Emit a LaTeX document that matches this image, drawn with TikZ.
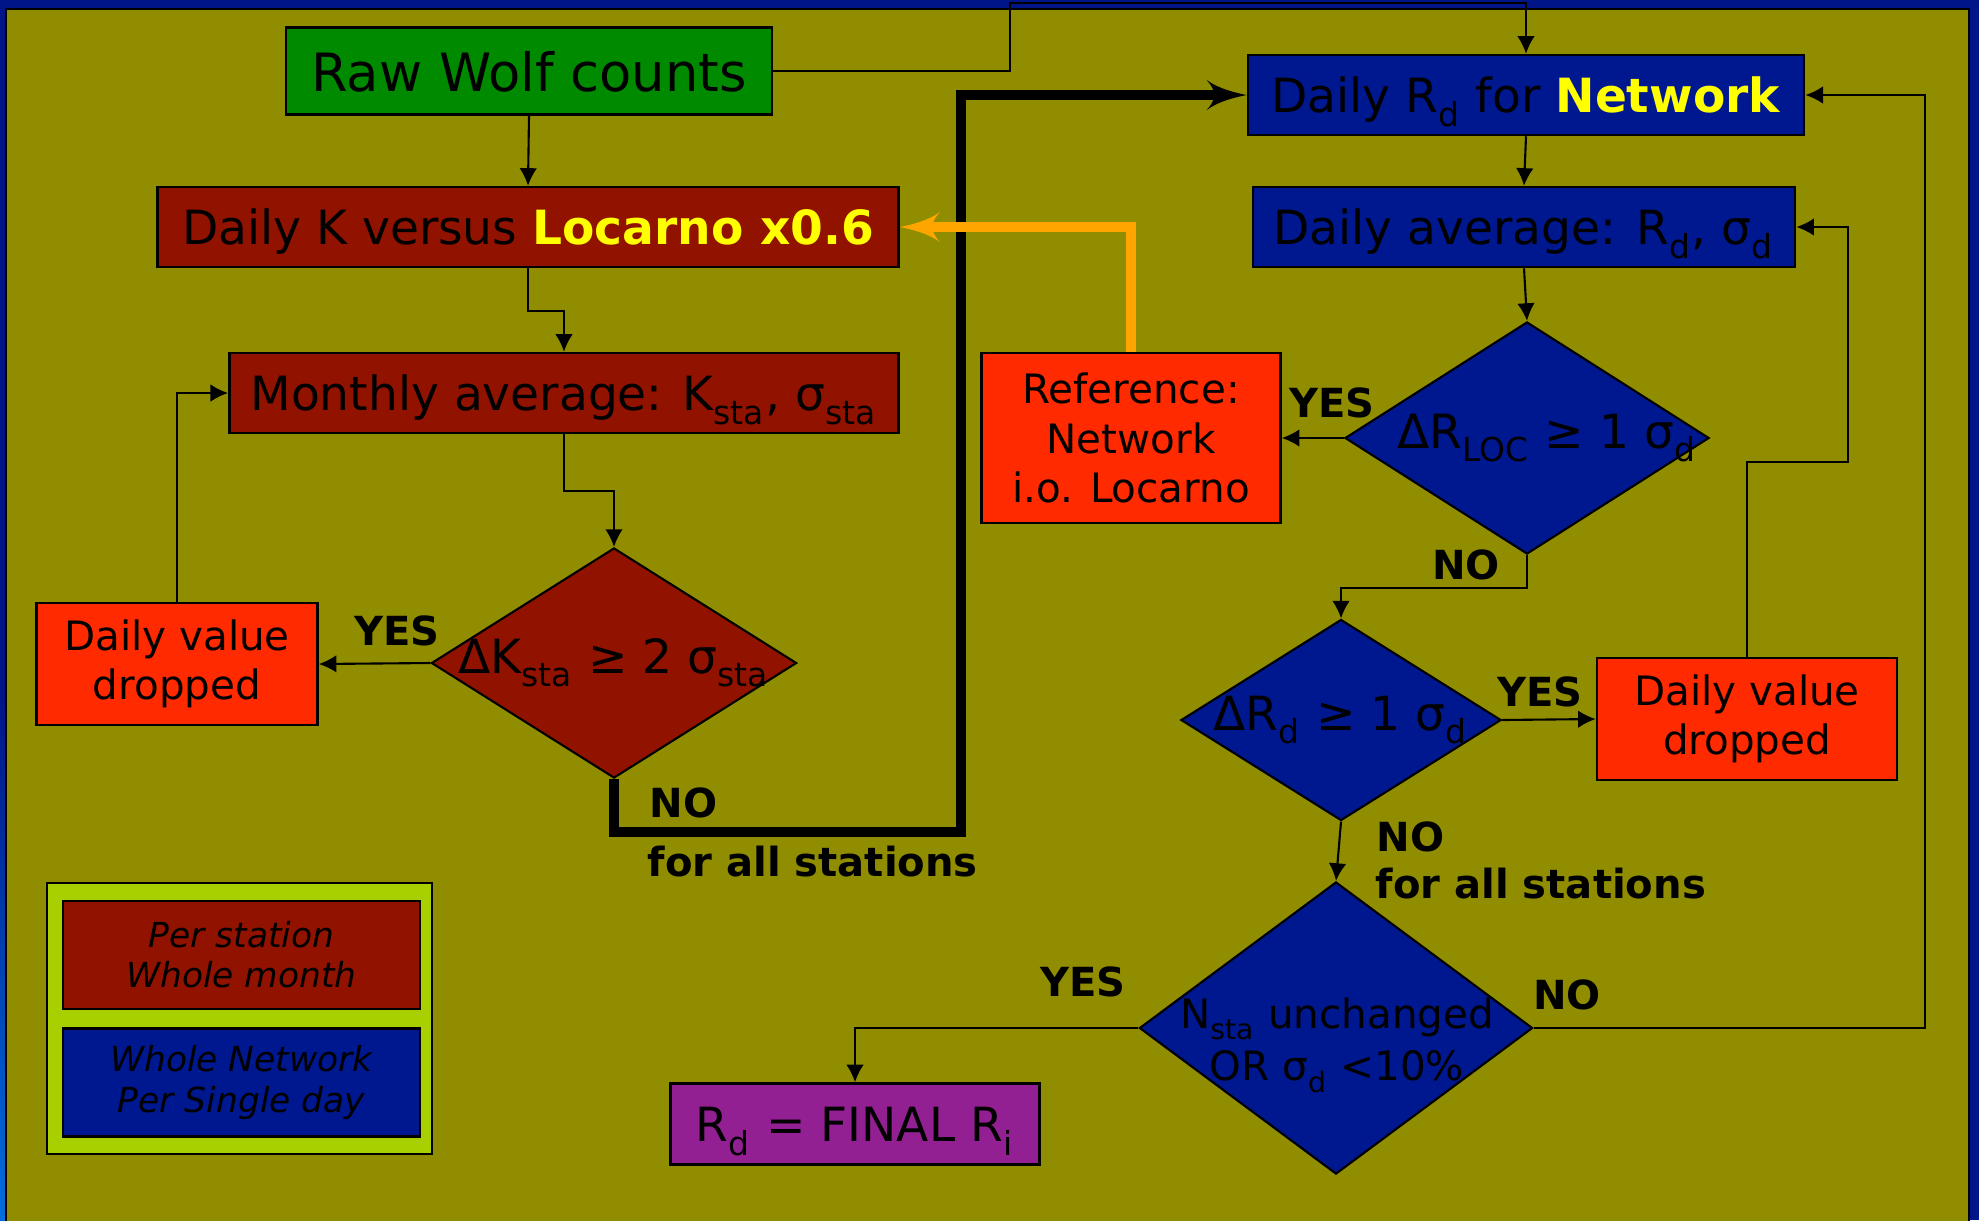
\documentclass[tikz,border=0pt]{standalone}
\usepackage{fontspec}
\setmainfont{DejaVu Sans}
\usepackage{tikz}
\usetikzlibrary{arrows,%
                arrows.meta,%
                shapes.geometric}

\definecolor{frameblue}{RGB}{0,21,136}
\definecolor{lightframe}{RGB}{0,110,220}
\definecolor{slidebg}{RGB}{144,141,0}
\definecolor{stationred}{RGB}{146,18,0}
\definecolor{networkblue}{RGB}{0,24,143}
\definecolor{rawgreen}{RGB}{0,138,0}
\definecolor{dropred}{RGB}{255,42,0}
\definecolor{finalpurple}{RGB}{146,32,146}
\definecolor{legendlime}{RGB}{168,208,0}
\definecolor{hiyellow}{RGB}{255,255,0}
\definecolor{refarrow}{RGB}{255,165,0}

\newcommand{\lowsub}[1]{\raisebox{-0.12em}{\textsubscript{#1}}}

\begin{document}
\begin{tikzpicture}[>=latex', x=0.01cm, y=-0.01cm]
  \tikzset{framed/.style = {draw, line width=0.7pt, inner sep=0pt,
                            font=\fontsize{13.4}{16}\selectfont}}
  \tikzset{box/.style = {framed, text height=10.2pt, text depth=0pt}}
  \tikzset{decision/.style = {framed, diamond, line width=0.6pt}}
  \tikzset{dropbox/.style = {framed, fill=dropred, align=center,
                             font=\fontsize{11.5}{14}\selectfont}}
  \tikzset{answer/.style = {inner sep=0pt,
                            font=\fontsize{11.4}{13}\selectfont\bfseries}}
  \tikzset{legendbox/.style = {framed, align=center, minimum width=3.57cm,
                               minimum height=1.08cm,
                               font=\fontsize{9.8}{11.4}\selectfont\itshape}}
  \tikzset{EdgeStyle/.style = {-{Latex[length=5pt,width=5pt]}, line width=0.6pt}}
  \tikzset{FlowStyle/.style = {->, line width=2.85pt}}

  \useasboundingbox (0,0) rectangle (1979,1220);
  % slide background
  \fill[frameblue] (0,0) rectangle (1979,1220);
  \shade[top color=frameblue, bottom color=lightframe] (0,700) rectangle (6,1220);
  \filldraw[fill=slidebg, draw=black, line width=0.6pt] (6,9) rectangle (1969,1224);

  % per station
  \node[box, fill=rawgreen, minimum width=4.86cm, minimum height=0.87cm, text height=11.8pt,
        font=\fontsize{15}{17}\selectfont] (raw) at (529,71) {Raw Wolf counts};
  \node[box, fill=stationred, minimum width=7.41cm, minimum height=0.8cm] (locarno) at (528,227)
        {Daily K versus \textcolor{hiyellow}{\textbf{Locarno x0.6}}};
  \node[box, fill=stationred, minimum width=6.69cm, minimum height=0.8cm] (month) at (564,393)
        {Monthly average: K\lowsub{sta}, σ\lowsub{sta}};
  \node[decision, fill=stationred, minimum width=3.65cm, minimum height=2.3cm] (kcheck) at (614,663)
        {\makebox[0pt]{ΔK\lowsub{sta} ≥ 2 σ\lowsub{sta}}};
  \node[dropbox, minimum width=2.81cm, minimum height=1.22cm] (dropK) at (177,664)
        {Daily value\\dropped};

  % whole network
  \node[box, fill=networkblue, minimum width=5.56cm, minimum height=0.8cm] (network) at (1526,95)
        {Daily R\lowsub{d} for \textcolor{hiyellow}{\textbf{Network}}};
  \node[box, fill=networkblue, minimum width=5.42cm, minimum height=0.8cm] (daily) at (1524,227)
        {Daily average: R\lowsub{d}, σ\lowsub{d}};
  \node[decision, fill=networkblue, minimum width=3.64cm, minimum height=2.32cm] (loccheck) at (1527,438)
        {\makebox[0pt]{\hspace{0.4cm}ΔR\lowsub{LOC} ≥ 1 σ\lowsub{d}}};
  \node[dropbox, minimum width=2.99cm, minimum height=1.7cm] (reference) at (1131,438)
        {Reference:\\Network\\i.o. Locarno};
  \node[decision, fill=networkblue, minimum width=3.2cm, minimum height=2.01cm] (rdcheck) at (1341,720)
        {\makebox[0pt]{ΔR\lowsub{d} ≥ 1 σ\lowsub{d}}};
  \node[dropbox, minimum width=3cm, minimum height=1.22cm] (dropR) at (1747,719)
        {Daily value\\dropped};
  \node[decision, fill=networkblue, minimum width=3.93cm, minimum height=2.92cm] (stacheck) at (1336,1028) {};
  \node[align=center, inner sep=0pt, font=\fontsize{11.5}{14.8}\selectfont] (stacheck-text) at (1337,1045)
        {N\lowsub{sta} unchanged\\OR σ\lowsub{d} <10\%};
  \node[box, fill=finalpurple, minimum width=3.69cm, minimum height=0.81cm] (final) at (855,1124)
        {R\lowsub{d} = FINAL R\lowsub{i}};

  % legend
  \node[draw, line width=0.7pt, fill=legendlime, minimum width=3.85cm, minimum height=2.71cm] (legend) at (239.5,1018.5) {};
  \node[legendbox, fill=stationred] (perstation) at (241.5,955) {Per station\\Whole month};
  \node[legendbox, fill=networkblue] (pernetwork) at (241.5,1082.5) {Whole Network\\Per Single day};

  % connectors
  \coordinate (top) at (1010,3);
  \draw[EdgeStyle] (raw.east) -| (top) -| (network.north);
  \draw[EdgeStyle] (raw.south) -- (locarno.north);
  \draw[EdgeStyle] (locarno.south) -- ++(0,43) -| (month.north);
  \draw[EdgeStyle] (month.south) -- ++(0,57) -| (kcheck.north);
  \draw[EdgeStyle] (kcheck.west) -- (dropK.east);
  \draw[EdgeStyle] (dropK.north) |- (month.west);
  \coordinate (kturn) at (961,832);
  \draw[FlowStyle] (kcheck.south) |- (kturn) |- (network.west);
  \draw[FlowStyle, draw=refarrow] (reference.north) |- (locarno.east);

  \draw[EdgeStyle] (network.south) -- (daily.north);
  \draw[EdgeStyle] (daily.south) -- (loccheck.north);
  \draw[EdgeStyle] (loccheck.west) -- (reference.east);
  \draw[EdgeStyle] (loccheck.south) -- ++(0,33) -| (rdcheck.north);
  \draw[EdgeStyle] (rdcheck.east) -- (dropR.west);
  \coordinate (rturn) at (1848,462);
  \draw[EdgeStyle] (dropR.north) |- (rturn) |- (daily.east);
  \draw[EdgeStyle] (rdcheck.south) -- (stacheck.north);
  \draw[EdgeStyle] (stacheck.west) -| (final.north);
  \coordinate (nturn) at (1925,1028);
  \draw[EdgeStyle] (stacheck.east) -- (nturn) |- (network.east);

  % answers
  \node[answer] (yesK) at (397,631) {YES};
  \node[answer, anchor=west] (noK) at (649,803) {NO};
  \node[answer, anchor=west] (allK) at (647,862) {for all stations};
  \node[answer] (yesLoc) at (1332,403) {YES};
  \node[answer] (noLoc) at (1466,565) {NO};
  \node[answer] (yesRd) at (1540,692) {YES};
  \node[answer, anchor=west] (noRd) at (1376,837) {NO};
  \node[answer, anchor=west] (allRd) at (1375,884) {for all stations};
  \node[answer] (yesSta) at (1083,982) {YES};
  \node[answer] (noSta) at (1567,995) {NO};
\end{tikzpicture}
\end{document}
